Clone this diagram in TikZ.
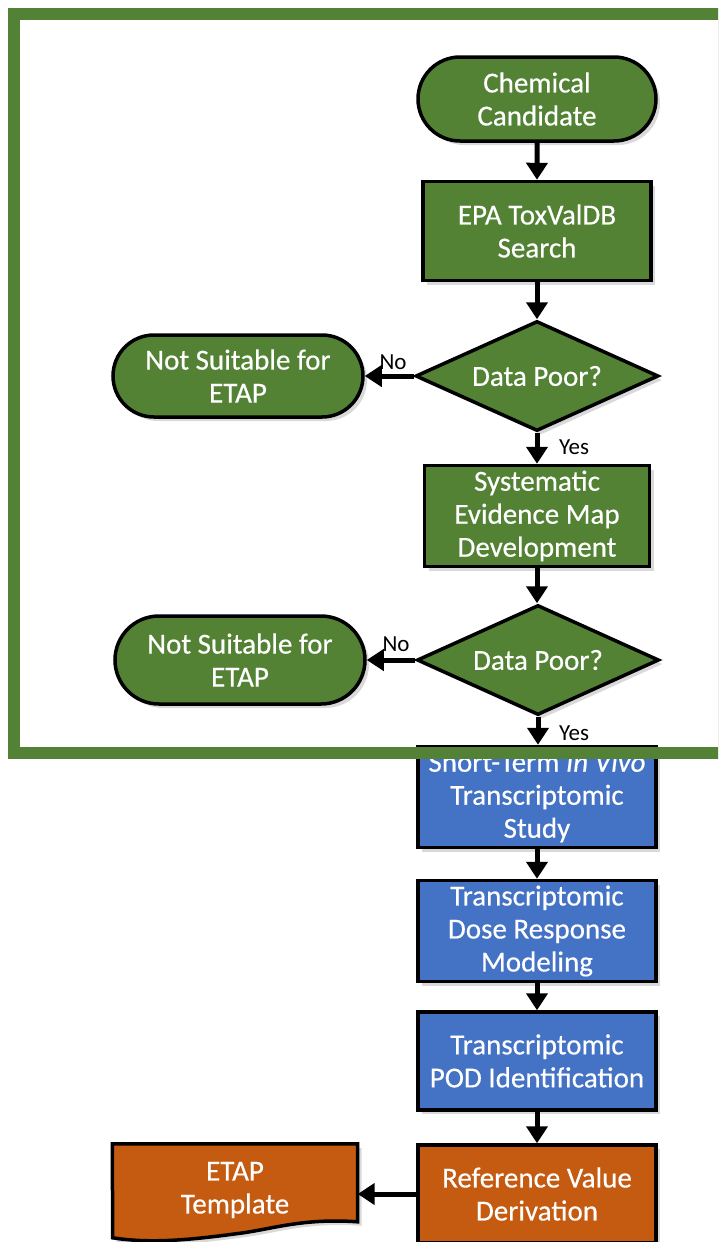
\documentclass[tikz,border=0pt]{standalone}
\usepackage{fontspec}
\setmainfont{Carlito}
\newfontfamily\boxfont{Carlito}[FakeBold=0.4]
\usetikzlibrary{shapes.geometric,shapes.misc,arrows.meta,shadows}
\definecolor{leaf}{HTML}{548235}
\definecolor{frameg}{HTML}{538135}
\definecolor{sky}{HTML}{4472C4}
\definecolor{rust}{HTML}{C55A11}

\begin{document}
\begin{tikzpicture}[x=1pt,y=-1pt,
  boxtext/.style={text=white, align=center, font=\boxfont\fontsize{29}{33}\selectfont},
  base/.style={boxtext, draw=black, line width=3.5pt, inner sep=0pt,
    drop shadow={shadow xshift=4pt,shadow yshift=-4pt,opacity=0.3}},
  terminal/.style={base, rounded rectangle, fill=leaf},
  procbox/.style={base, rectangle, fill=#1},
  decision/.style={base, diamond, aspect=2.2, fill=leaf},
  flow/.style={line width=5pt, -{Triangle[length=17pt,width=21pt]}},
  tag/.style={font=\fontsize{23}{26}\selectfont, text=black, inner sep=0pt}
]
\useasboundingbox (0,0) rectangle (718,1242);
\clip (0,0) rectangle (718,1242);

% screening stage
\node[terminal, minimum width=238pt, minimum height=84pt] (cc) at (537,99)
  {Chemical\\Candidate};
\node[procbox=leaf, minimum width=228pt, minimum height=99pt] (epa) at (537,231)
  {EPA ToxValDB\\Search};
\node[decision, minimum width=243pt, minimum height=110pt] (d1) at (537,376)
  {Data Poor?};
\node[terminal, minimum width=250pt, minimum height=82pt] (ns1) at (238,376)
  {Not Suitable for\\ETAP};
\node[procbox=leaf, minimum width=225pt, minimum height=101pt] (sem) at (537,516)
  {Systematic\\Evidence Map\\Development};
\node[decision, minimum width=242pt, minimum height=110pt] (d2) at (538,660)
  {Data Poor?};
\node[terminal, minimum width=250pt, minimum height=88pt] (ns2) at (240,660)
  {Not Suitable for\\ETAP};

% transcriptomic stage
\node[procbox=sky, minimum width=238pt, minimum height=101pt] (st) at (537,797)
  {Short-Term \textit{In Vivo}\\Transcriptomic\\Study};
\node[procbox=sky, minimum width=238pt, minimum height=101pt] (dr) at (537,931)
  {Transcriptomic\\Dose Response\\Modeling};
\node[procbox=sky, minimum width=238pt, minimum height=98pt] (pod) at (537,1061)
  {Transcriptomic\\POD Identification};

% derivation stage
\node[procbox=rust, minimum width=238pt, minimum height=98pt] (rv) at (537,1194)
  {Reference Value\\Derivation};
\node[inner sep=0pt, minimum width=245pt, minimum height=92pt] (tmpl) at (235,1190) {};
\draw[line width=3.5pt, fill=rust, drop shadow={shadow xshift=4pt,shadow yshift=-4pt,opacity=0.3}]
  (tmpl.north west) -- (tmpl.north east) -- ++(0,78)
  .. controls +(-57,-4) and +(35,-4) .. ++(-122,12)
  .. controls +(-45,6) and +(38,6) .. ++(-123,4) -- cycle;
\node[boxtext] at (tmpl.center) {ETAP\\Template};

% connectors
\draw[flow] (cc) -- (epa);
\draw[flow] (epa) -- (d1);
\draw[flow] (d1.west) -- (d1.west -| ns1.east);
\draw[flow] (d1.south) -- (sem);
\draw[flow] (sem) -- (sem.south |- d2.north);
\draw[flow] (d2.west) -- (d2.west -| ns2.east);
\draw[flow] (d2.south) -- (d2.south |- st.north);
\draw[flow] (st) -- (dr);
\draw[flow] (dr) -- (pod);
\draw[flow] (pod) -- (rv);
\draw[flow] (rv.west) -- (rv.west -| tmpl.east);

\node[tag] (no1) at (393,362) {No};
\node[tag] (yes1) at (574,447) {Yes};
\node[tag] (no2) at (396,644) {No};
\node[tag] (yes2) at (574,733) {Yes};

% screening frame
\draw[frameg, line width=12pt] (14,14) rectangle (724,753);
\end{tikzpicture}
\end{document}
